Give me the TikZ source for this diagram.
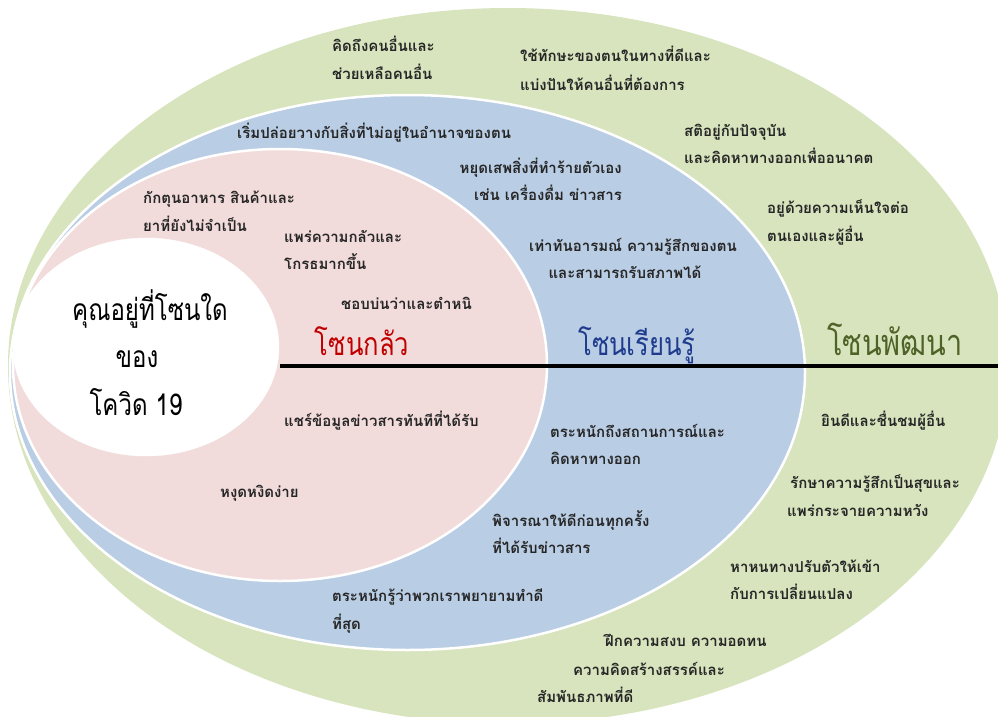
\documentclass[tikz,border=0pt]{standalone}
\usepackage{fontspec}
\newfontfamily\thai[Script=Thai]{Loma}
\definecolor{gz}{HTML}{D7E4BD}
\definecolor{bz}{HTML}{B9CDE5}
\definecolor{pz}{HTML}{F2DCDB}
\definecolor{txtc}{HTML}{262626}
\definecolor{redz}{HTML}{C00000}
\definecolor{bluez}{HTML}{1F3B8C}
\definecolor{greenz}{HTML}{4F6228}
\newcommand\narrow[1]{\scalebox{0.8}[1]{#1}}
\begin{document}
\begin{tikzpicture}[x=1pt,y=-1pt,
  txt/.style={font=\thai\bfseries\fontsize{15}{17}\selectfont, text=txtc, inner sep=0pt, anchor=base west},
  ttl/.style={font=\thai\fontsize{30}{32}\selectfont, text=black, inner sep=0pt, anchor=base},
  zone/.style={font=\thai\fontsize{32}{34}\selectfont, inner sep=0pt, anchor=base},
  sep/.style={draw=white, line width=2.5pt}]
\useasboundingbox (0,0) rectangle (998,717);
\begin{scope}
\clip (0,0) rectangle (998,717);
\fill[gz] (508,366) ellipse [x radius=500, y radius=358];
\filldraw[fill=bz, sep] (407.5,372.5) ellipse [x radius=397.5, y radius=277.5];
\filldraw[fill=pz, sep] (280,365) ellipse [x radius=267, y radius=216];
\filldraw[fill=white, draw=white] (146,347) ellipse [x radius=133, y radius=109];
\end{scope}
\coordinate (ls) at (280,366);
\coordinate (le) at (998,366);
\draw[line width=4.5pt, black] (ls) -- (le);
% title
\node[ttl] (title1) at (150,320) {\narrow{คุณอยู่ที่โซนใด}};
\node[ttl] (title2) at (137,367) {\narrow{ของ}};
\node[ttl] (title3) at (136,415) {\narrow{โควิด 19}};
% zone labels
\node[zone, text=redz] (zfear) at (362,355) {\narrow{โซนกลัว}};
\node[zone, text=bluez] (zlearn) at (637,355) {\narrow{โซนเรียนรู้}};
\node[zone, text=greenz, font=\thai\fontsize{36}{38}\selectfont] (zgrow) at (895,355) {\narrow{โซนพัฒนา}};
% green zone
\node[txt] (g1a) at (332,52) {คิดถึงคนอื่นและ};
\node[txt] (g1b) at (332,80) {ช่วยเหลือคนอื่น};
\node[txt] (g2a) at (520,62) {ใช้ทักษะของตนในทางที่ดีและ};
\node[txt] (g2b) at (520,90) {แบ่งปันให้คนอื่นที่ต้องการ};
\node[txt] (g3a) at (684,136) {สติอยู่กับปัจจุบัน};
\node[txt] (g3b) at (684,163) {และคิดหาทางออกเพื่ออนาคต};
\node[txt] (g4a) at (767,213) {อยู่ด้วยความเห็นใจต่อ};
\node[txt] (g4b) at (767,241) {ตนเองและผู้อื่น};
\node[txt] (g5) at (821,426) {ยินดีและชื่นชมผู้อื่น};
\node[txt] (g6a) at (790,488) {รักษาความรู้สึกเป็นสุขและ};
\node[txt] (g6b) at (787,516) {แพร่กระจายความหวัง};
\node[txt] (g7a) at (730,572) {หาหนทางปรับตัวให้เข้า};
\node[txt] (g7b) at (730,599) {กับการเปลี่ยนแปลง};
\node[txt] (g8a) at (605,646) {ฝึกความสงบ ความอดทน};
\node[txt] (g8b) at (573,675) {ความคิดสร้างสรรค์และ};
\node[txt] (g8c) at (537,702) {สัมพันธภาพที่ดี};
% blue zone
\node[txt] (b1) at (237,138) {เริ่มปล่อยวางกับสิ่งที่ไม่อยู่ในอำนาจของตน};
\node[txt, anchor=base east] (b2a) at (622,173) {หยุดเสพสิ่งที่ทำร้ายตัวเอง};
\node[txt, anchor=base east] (b2b) at (622,200) {เช่น เครื่องดื่ม ข่าวสาร};
\node[txt, anchor=base] (b3a) at (633,251) {เท่าทันอารมณ์ ความรู้สึกของตน};
\node[txt, anchor=base] (b3b) at (625,278) {และสามารถรับสภาพได้};
\node[txt] (b4a) at (550,437) {ตระหนักถึงสถานการณ์และ};
\node[txt] (b4b) at (550,464) {คิดหาทางออก};
\node[txt] (b5a) at (492,526) {พิจารณาให้ดีก่อนทุกครั้ง};
\node[txt] (b5b) at (492,553) {ที่ได้รับข่าวสาร};
\node[txt] (b6a) at (332,601) {ตระหนักรู้ว่าพวกเราพยายามทำดี};
\node[txt] (b6b) at (332,629) {ที่สุด};
% pink zone
\node[txt] (p1a) at (143,203) {กักตุนอาหาร สินค้าและ};
\node[txt] (p1b) at (143,231) {ยาที่ยังไม่จำเป็น};
\node[txt] (p2a) at (284,242) {แพร่ความกลัวและ};
\node[txt] (p2b) at (284,269) {โกรธมากขึ้น};
\node[txt] (p3) at (341,309) {ชอบบ่นว่าและตำหนิ};
\node[txt] (p4) at (284,426) {แชร์ข้อมูลข่าวสารทันทีที่ได้รับ};
\node[txt] (p5) at (220,497) {หงุดหงิดง่าย};
\end{tikzpicture}
\end{document}
